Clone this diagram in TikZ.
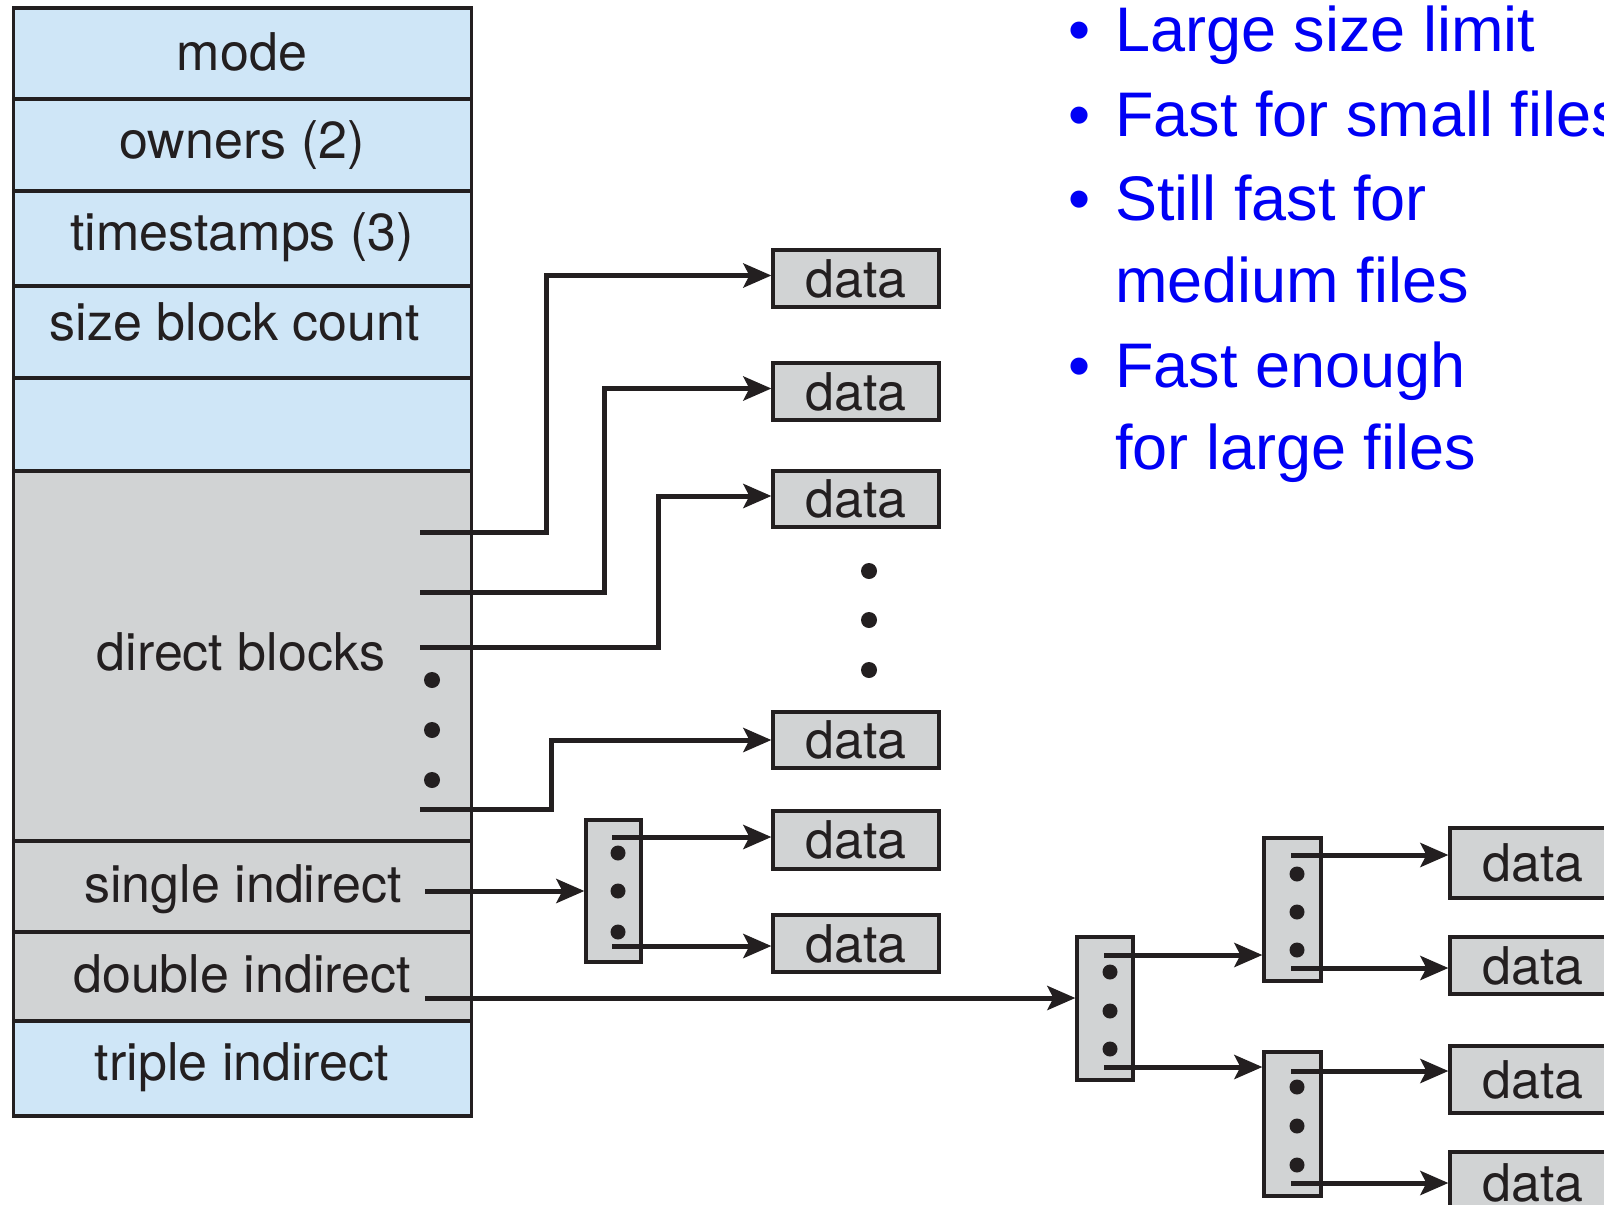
\documentclass[tikz,border=0pt]{standalone}
\usepackage{fontspec}
\setmainfont{TeX Gyre Heros}
\newfontfamily\notefont{Liberation Sans}
\usetikzlibrary{arrows.meta,fit}
\definecolor{ink}{RGB}{35,31,32}
\definecolor{inodeblue}{RGB}{207,230,247}
\definecolor{blockgray}{RGB}{209,211,212}
\definecolor{notes}{RGB}{0,0,245}
\begin{document}
\begin{tikzpicture}[x=0.5pt,y=-0.5pt,
  cell/.style={draw=ink, line width=1.6pt, inner sep=0pt},
  lbl/.style={text=ink, font=\fontsize{26pt}{30pt}\selectfont, inner sep=0pt, anchor=base},
  datab/.style={draw=ink, line width=1.6pt, fill=blockgray, inner sep=0pt,
    minimum width=83pt, text=ink, font=\fontsize{26pt}{30pt}\selectfont},
  idx/.style={draw=ink, line width=1.6pt, fill=blockgray, inner sep=0pt},
  ptr/.style={draw=ink, line width=2.5pt, -{Stealth[length=14pt,width=12pt,inset=3pt]}},
  note/.style={text=notes, font=\notefont\fontsize{31.5pt}{38pt}\selectfont,
    inner sep=0pt, anchor=base west}
]
\useasboundingbox (0,0) rectangle (1604,1204);
\clip (0,0) rectangle (1604,1204);
\fill[white] (0,0) rectangle (1604,1204);

% inode table
\node[cell, fill=inodeblue, fit={(13.5,8) (471.5,99)}]    (mode)   {};
\node[cell, fill=inodeblue, fit={(13.5,99) (471.5,191)}]  (owners) {};
\node[cell, fill=inodeblue, fit={(13.5,191) (471.5,286)}] (times)  {};
\node[cell, fill=inodeblue, fit={(13.5,286) (471.5,378)}] (size)   {};
\node[cell, fill=inodeblue, fit={(13.5,378) (471.5,471)}] (spare)  {};
\node[cell, fill=blockgray, fit={(13.5,471) (471.5,841)}] (direct) {};
\node[cell, fill=blockgray, fit={(13.5,841) (471.5,932)}] (single) {};
\node[cell, fill=blockgray, fit={(13.5,932) (471.5,1021)}] (double) {};
\node[cell, fill=inodeblue, fit={(13.5,1021) (471.5,1116)}] (triple) {};

\node[lbl] (tmode)   at (242,71)   {mode};
\node[lbl] (towners) at (242,158)  {owners (2)};
\node[lbl] (ttimes)  at (242,250)  {timestamps (3)};
\node[lbl] (tsize)   at (235,340)  {size block count};
\node[lbl] (tdirect) at (241,670)  {direct blocks};
\node[lbl] (tsingle) at (243,902)  {single indirect};
\node[lbl] (tdouble) at (242,992)  {double indirect};
\node[lbl] (ttriple) at (242,1080) {triple indirect};

\foreach \y in {680,730,780} \fill[ink] (432,\y) circle[radius=4pt];

% data blocks reached directly or via one level of indirection
\node[datab, minimum height=28.5pt] (b1) at (856,278.5) {data};
\node[datab, minimum height=28.5pt] (b2) at (856,391.5) {data};
\node[datab, minimum height=28pt]   (b3) at (856,499)   {data};
\node[datab, minimum height=28pt]   (b4) at (856,740)   {data};
\node[datab, minimum height=29pt]   (b5) at (856,840)   {data};
\node[datab, minimum height=28.5pt] (b6) at (856,943.5) {data};
\foreach \y in {571,620,670} \fill[ink] (869,\y) circle[radius=4pt];

% index blocks
\node[idx, fit={(586,820) (641,962)}]    (sb) {};
\node[idx, fit={(1077,937) (1133,1080)}] (d1) {};
\node[idx, fit={(1264,838) (1321,981)}]  (da) {};
\node[idx, fit={(1264,1052) (1321,1196)}] (db) {};
\foreach \y in {853,891,932}    \fill[ink] (618,\y)  circle[radius=3.75pt];
\foreach \y in {972,1011,1049}  \fill[ink] (1110,\y) circle[radius=3.75pt];
\foreach \y in {874,912,950}    \fill[ink] (1297,\y) circle[radius=3.75pt];
\foreach \y in {1087,1126,1165} \fill[ink] (1297,\y) circle[radius=3.75pt];

% data blocks reached through double indirection
\node[datab, minimum height=35pt]   (r1) at (1533,863)    {data};
\node[datab, minimum height=28.5pt] (r2) at (1533,965.5)  {data};
\node[datab, minimum height=33.5pt] (r3) at (1533,1079.5) {data};
\node[datab, minimum height=31pt]   (r4) at (1533,1183)   {data};

% pointer origins
\coordinate (s1) at (420,532);
\coordinate (s2) at (420,592);
\coordinate (s3) at (420,647);
\coordinate (s4) at (420,809);
\coordinate (sin) at (425,891);
\coordinate (din) at (425,998);
\coordinate (so1) at (612,837);
\coordinate (so2) at (612,946);
\coordinate (do1) at (1104,955);
\coordinate (do2) at (1104,1067);
\coordinate (ao1) at (1291,855);
\coordinate (ao2) at (1291,968);
\coordinate (bo1) at (1291,1071);
\coordinate (bo2) at (1291,1183);

% pointers
\draw[ptr] (s1) -- ++(126,0) |- ([yshift=1.5pt]b1.west);
\draw[ptr] (s2) -- ++(184,0) |- ([yshift=1.5pt]b2.west);
\draw[ptr] (s3) -- ++(238,0) |- ([yshift=1.5pt]b3.west);
\draw[ptr] (s4) -- ++(131,0) |- (b4.west);
\draw[ptr] (sin) -- (sin -| sb.west);
\draw[ptr] (so1) -- (so1 -| b5.west);
\draw[ptr] (so2) -- (so2 -| b6.west);
\draw[ptr] (din) -- (din -| d1.west);
\draw[ptr] (do1) -- (do1 -| da.west);
\draw[ptr] (do2) -- (do2 -| db.west);
\draw[ptr] (ao1) -- (ao1 -| r1.west);
\draw[ptr] (ao2) -- (ao2 -| r2.west);
\draw[ptr] (bo1) -- (bo1 -| r3.west);
\draw[ptr] (bo2) -- (bo2 -| r4.west);

% notes
\node[note] (n1) at (1068,52)  {\makebox[23.5pt][l]{•}Large size limit};
\node[note] (n2) at (1068,136) {\makebox[23.5pt][l]{•}Fast for small files};
\node[note] (n3) at (1068,220) {\makebox[23.5pt][l]{•}Still fast for};
\node[note] (n4) at (1115,302) {medium files};
\node[note] (n5) at (1068,387) {\makebox[23.5pt][l]{•}Fast enough};
\node[note] (n6) at (1115,469) {for large files};
\end{tikzpicture}
\end{document}
